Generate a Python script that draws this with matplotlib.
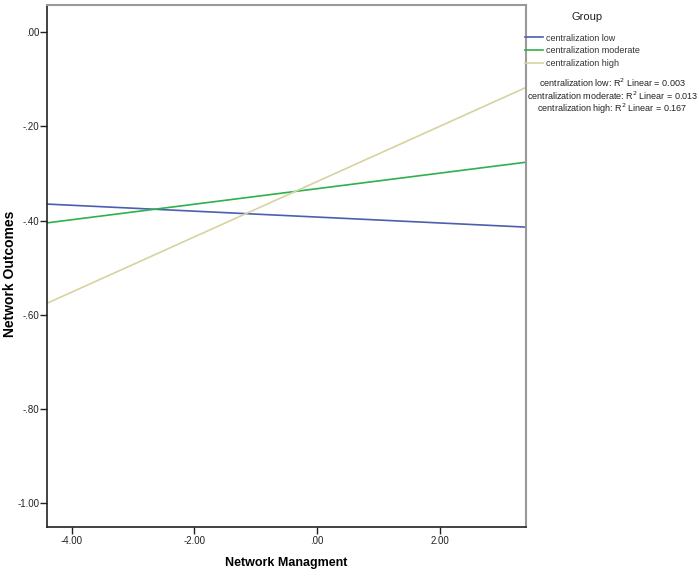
import matplotlib.pyplot as plt

plt.rcParams['font.family'] = ['Liberation Sans', 'DejaVu Sans']

# fit lines: y at the two ends of the x range
x_ends = [-4.40, 3.40]
groups = ['centralization low', 'centralization moderate', 'centralization high']
y_low = [-0.365, -0.414]
y_moderate = [-0.405, -0.276]
y_high = [-0.576, -0.117]
r2 = ['0.003', '0.013', '0.167']
colors = ['#4b5fae', '#2db14b', '#d6d3a0']

xticks = [-4, -2, 0, 2]
xtick_labels = ['-4.00', '-2.00', '.00', '2.00']
yticks = [0, -0.2, -0.4, -0.6, -0.8, -1.0]
ytick_labels = ['.00', '-.20', '-.40', '-.60', '-.80', '-1.00']

fig = plt.figure(figsize=(6.99, 5.78), dpi=100)
ax = fig.add_axes([0.0672, 0.0888, 0.6853, 0.9031])

handles = []
for yv, c, name in zip([y_low, y_moderate, y_high], colors, groups):
    h, = ax.plot(x_ends, yv, color=c, lw=1.2, label=name)
    handles.append(h)

ax.set_xlim(-4.40, 3.40)
ax.set_ylim(-1.051, 0.059)
ax.set_xticks(xticks)
ax.set_xticklabels(xtick_labels)
ax.set_yticks(yticks)
ax.set_yticklabels(ytick_labels)
ax.tick_params(direction='out', length=5, width=1, labelsize=7, colors='#222222')
ax.tick_params(axis='y', pad=0.5)
ax.tick_params(axis='x', pad=1.5)

for s in ['left', 'bottom']:
    ax.spines[s].set_color('#222222')
    ax.spines[s].set_linewidth(1.2)
for s in ['top', 'right']:
    ax.spines[s].set_color('#999999')
    ax.spines[s].set_linewidth(1.5)

ax.set_xlabel('Network Managment', fontsize=9, fontweight='bold', labelpad=8)
ax.set_ylabel('Network Outcomes', fontsize=10, fontweight='bold')
ax.yaxis.set_label_coords(-0.063, 0.485)

fig.text(587 / 699, 1 - 17 / 578, 'Group', ha='center', va='center',
         fontsize=8, color='#222222')
leg = fig.legend(handles=handles, loc='upper left', bbox_to_anchor=(0.751, 0.942),
                 fontsize=6.5, frameon=False,
                 handlelength=2.0, handletextpad=0.3, labelspacing=0.4,
                 borderaxespad=0, borderpad=0)
for t in leg.get_texts():
    t.set_color('#333333')

for i, (name, v) in enumerate(zip(groups, r2)):
    fig.text(0.876, 1 - (83 + 12.8 * i) / 578, f'{name}: R$^2$ Linear = {v}',
             ha='center', va='center', fontsize=6.5, color='#222222')

fig.savefig('out.png', dpi=100)
